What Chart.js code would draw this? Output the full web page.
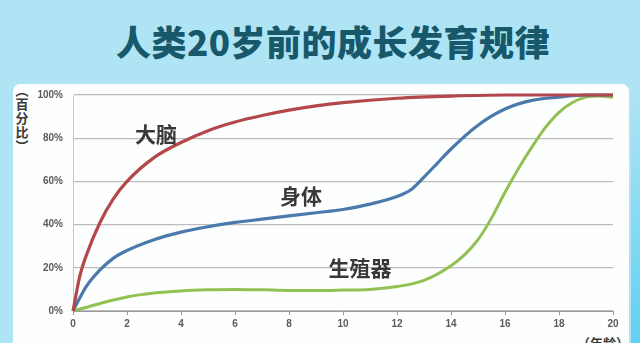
<!DOCTYPE html>
<html>
<head>
<meta charset="utf-8">
<script src="https://cdn.jsdelivr.net/npm/chart.js@4.4.1/dist/chart.umd.min.js"></script>
<style>
  html,body{margin:0;padding:0;width:640px;height:343px;overflow:hidden;background:#afe4f5;}
  #strip{position:absolute;left:631px;top:90px;width:9px;height:253px;background:linear-gradient(to bottom,#afe4f5,#62d0f1);}
  #panel{position:absolute;left:13px;top:84px;width:616px;height:270px;background:#fdfefe;border-radius:7px;}
  #title{position:absolute;left:0;top:19px;width:666px;text-align:center;font-family:"Noto Sans CJK SC";font-weight:900;font-size:35px;letter-spacing:0.5px;color:#17586a;line-height:44px;}
  #ytitle{position:absolute;left:14px;top:83px;width:16px;text-align:center;font-family:"Noto Sans CJK SC";font-weight:700;font-size:13px;color:#3a3a3a;line-height:14px;}
  #xtitle{position:absolute;left:577px;top:333px;font-family:"Noto Sans CJK SC";font-weight:700;font-size:13px;color:#3a3a3a;}
  canvas{position:absolute;left:0;top:0;}
</style>
</head>
<body>
<div id="strip"></div>
<div id="panel"></div>
<div id="title">人类20岁前的成长发育规律</div>
<div id="ytitle">︵<br>百<br>分<br>比<br>︶</div>
<div id="xtitle">（年龄）</div>
<canvas id="c" width="640" height="343"></canvas>
<script>
// ---- data (age in years, development in %) ----
const seriesNames = ['大脑', '身体', '生殖器'];
const brainAges   = [0, 0.25, 0.5, 1, 1.5, 2, 3, 4, 5, 6, 7, 8, 9, 10, 12, 14, 16, 18, 20];
const brainValues = [0, 16, 26, 41, 52, 60, 71, 78, 83.5, 87.5, 90.5, 93, 95, 96.5, 98.5, 99.5, 100, 100, 100];
const bodyAges    = [0, 0.25, 0.5, 1, 1.5, 2, 3, 4, 5, 6, 7, 8, 9, 10, 11, 12, 12.5, 13, 13.5, 14, 15, 16, 17, 18, 19, 20];
const bodyValues  = [0, 6, 11.5, 19, 24.5, 28, 33, 36.5, 39, 41, 42.5, 44, 45.5, 47, 49.5, 53, 56, 62, 68.5, 75, 86, 93.5, 97.5, 99, 100, 100];
const genitalAges   = [0, 1, 2, 3, 4, 5, 6, 7, 8, 9, 10, 11, 12, 13, 14, 14.5, 15, 15.5, 16, 16.5, 17, 17.5, 18, 18.5, 19, 19.5, 20];
const genitalValues = [0, 3.5, 6.5, 8.3, 9.3, 9.8, 10, 9.8, 9.5, 9.5, 9.7, 10, 11.3, 14.2, 21, 26, 33, 43, 55, 66, 76, 85, 92, 96.5, 99, 99.5, 99];
const xTicks = [0, 2, 4, 6, 8, 10, 12, 14, 16, 18, 20];
const yTicks = [0, 20, 40, 60, 80, 100];
// label anchor points in data units
const labelAges   = [3.07, 8.44, 10.63];
const labelValues = [82, 53.2, 19.9];

const colors = ['#b3474c', '#4a79ab', '#92c053'];
const toPts = (xs, ys) => xs.map((x, i) => ({x: x, y: ys[i]}));

const labelPlugin = {
  id: 'curveLabels',
  afterDatasetsDraw(chart) {
    const {ctx, scales} = chart;
    ctx.save();
    ctx.font = '700 21px "Noto Sans CJK SC"';
    ctx.fillStyle = '#383838';
    ctx.textAlign = 'center';
    ctx.textBaseline = 'middle';
    seriesNames.forEach((n, i) => {
      ctx.fillText(n, scales.x.getPixelForValue(labelAges[i]), scales.y.getPixelForValue(labelValues[i]));
    });
    ctx.restore();
  }
};

new Chart(document.getElementById('c'), {
  type: 'line',
  data: {
    datasets: [
      {label: seriesNames[0], data: toPts(brainAges, brainValues), borderColor: colors[0], borderWidth: 3.2},
      {label: seriesNames[1], data: toPts(bodyAges, bodyValues), borderColor: colors[1], borderWidth: 3.2},
      {label: seriesNames[2], data: toPts(genitalAges, genitalValues), borderColor: colors[2], borderWidth: 3}
    ].map(d => Object.assign(d, {pointRadius: 0, fill: false, cubicInterpolationMode: 'monotone', clip: false}))
  },
  options: {
    responsive: false,
    animation: false,
    devicePixelRatio: 1,
    layout: {padding: {top: 95, left: 0, right: 27, bottom: 0}},
    plugins: {legend: {display: false}, tooltip: {enabled: false}},
    scales: {
      x: {
        type: 'linear', min: 0, max: 20,
        afterBuildTicks: s => { s.ticks = xTicks.map(v => ({value: v})); },
        afterFit: s => { s.height = 32; },
        grid: {drawOnChartArea: false, drawTicks: true, tickLength: 4, color: '#9a9a9a'},
        border: {display: true, color: '#9a9a9a', width: 1},
        ticks: {padding: 3, color: '#5a5a5a', font: {family: 'Liberation Sans', weight: 'bold', size: 10}, maxRotation: 0}
      },
      y: {
        min: 0, max: 100,
        afterBuildTicks: s => { s.ticks = yTicks.map(v => ({value: v})); },
        afterFit: s => { s.width = 73; },
        grid: {color: '#bcbcbc', lineWidth: 1.3, drawTicks: false},
        border: {display: true, color: '#c8c8c8', width: 1},
        ticks: {padding: 10, color: '#5a5a5a', font: {family: 'Liberation Sans', weight: 'bold', size: 10}, callback: v => v + '%'}
      }
    }
  },
  plugins: [labelPlugin]
});
</script>
</body>
</html>
